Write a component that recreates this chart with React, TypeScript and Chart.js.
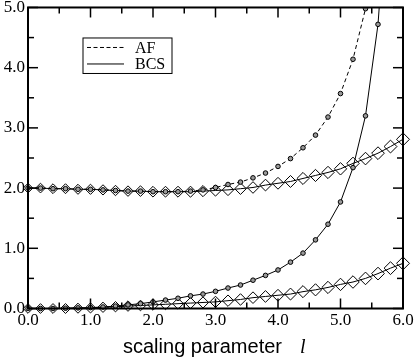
import React, { useEffect, useRef } from "react";
import { Chart, registerables } from "chart.js";
Chart.register(...registerables);

const xValues = [0, 0.2, 0.4, 0.6, 0.8, 1.0, 1.2, 1.4, 1.6, 1.8, 2.0, 2.2, 2.4, 2.6, 2.8, 3.0, 3.2, 3.4, 3.6, 3.8, 4.0, 4.2, 4.4, 4.6, 4.8, 5.0, 5.2, 5.4, 5.6, 5.8, 6.0];
const afValues = [2.0, 2.0, 1.99, 1.99, 1.98, 1.98, 1.97, 1.96, 1.95, 1.95, 1.94, 1.94, 1.94, 1.95, 1.97, 2.01, 2.06, 2.1, 2.17, 2.25, 2.36, 2.49, 2.67, 2.88, 3.18, 3.57, 4.14, 4.98, 6.3];
const bcsValues = [0, 0, 0, 0.005, 0.01, 0.015, 0.025, 0.04, 0.06, 0.08, 0.11, 0.14, 0.17, 0.21, 0.24, 0.285, 0.34, 0.39, 0.47, 0.55, 0.64, 0.77, 0.92, 1.14, 1.4, 1.77, 2.34, 3.2, 4.72, 7.6];
const upperDiamonds = [2.0, 2.0, 1.99, 1.99, 1.98, 1.98, 1.97, 1.96, 1.95, 1.95, 1.94, 1.94, 1.94, 1.94, 1.95, 1.96, 1.97, 1.99, 2.01, 2.05, 2.08, 2.11, 2.16, 2.21, 2.26, 2.32, 2.41, 2.49, 2.58, 2.69, 2.81];
const lowerDiamonds = [0, 0, 0, 0, 0.005, 0.01, 0.02, 0.03, 0.04, 0.05, 0.06, 0.07, 0.08, 0.09, 0.1, 0.11, 0.13, 0.15, 0.18, 0.2, 0.22, 0.24, 0.28, 0.31, 0.35, 0.4, 0.44, 0.5, 0.58, 0.67, 0.75];
const xTicks = [0, 1, 2, 3, 4, 5, 6];
const yTicks = [0, 1, 2, 3, 4, 5];
const legendLabels = ["AF", "BCS"];
const xTitle = "scaling parameter";
const xTitleVar = "l";

const toPoints = (vals: number[]) => vals.map((y, i) => ({ x: xValues[i], y }));

const SERIF = "'Liberation Serif', 'Times New Roman', serif";
const SANS = "'Liberation Sans', Arial, sans-serif";

const decor = {
  id: "decor",
  afterDraw(chart: any) {
    const { ctx, chartArea: a, scales } = chart;
    const xs = scales.x;
    const ys = scales.y;
    ctx.save();
    ctx.strokeStyle = "#000";
    ctx.lineCap = "butt";
    const seg = (x1: number, y1: number, x2: number, y2: number) => {
      ctx.beginPath();
      ctx.moveTo(x1, y1);
      ctx.lineTo(x2, y2);
      ctx.stroke();
    };
    ctx.lineWidth = 1.5;
    const xMax = xTicks[xTicks.length - 1];
    for (let i = 0; i <= xMax * 2; i++) {
      const v = i / 2;
      const L = i % 2 === 0 ? 10 : 6;
      const px = xs.getPixelForValue(v);
      seg(px, a.bottom, px, a.bottom - L);
      seg(px, a.top, px, a.top + L);
    }
    const yMax = yTicks[yTicks.length - 1];
    for (let i = 0; i <= yMax * 2; i++) {
      const v = i / 2;
      const L = i % 2 === 0 ? 10 : 6;
      const py = ys.getPixelForValue(v);
      seg(a.left, py, a.left + L, py);
      seg(a.right, py, a.right - L, py);
    }
    ctx.lineWidth = 2;
    ctx.strokeRect(a.left, a.top, a.right - a.left, a.bottom - a.top);

    // legend
    const lx = a.left + 55;
    const ly = a.top + 30.5;
    ctx.lineWidth = 1;
    ctx.strokeRect(lx, ly, 89, 35.5);
    ctx.setLineDash([4, 2.5]);
    seg(lx + 4, ly + 9.5, lx + 41, ly + 9.5);
    ctx.setLineDash([]);
    seg(lx + 4, ly + 26, lx + 41, ly + 26);
    ctx.fillStyle = "#000";
    ctx.font = `16px ${SERIF}`;
    ctx.textBaseline = "alphabetic";
    ctx.textAlign = "left";
    ctx.fillText(legendLabels[0], lx + 52, ly + 15);
    ctx.fillText(legendLabels[1], lx + 52, ly + 31);

    // x title
    ctx.font = `20px ${SANS}`;
    ctx.fillText(xTitle, 123, 353);
    ctx.font = `italic 20px ${SERIF}`;
    ctx.fillText(xTitleVar, 300, 353);
    ctx.restore();
  },
};

export default function App() {
  const ref = useRef<HTMLCanvasElement>(null);
  useEffect(() => {
    if (!ref.current) return;
    const diamondRadius = (c: any) => 4.8 + 0.28 * (c.raw ? c.raw.x : 0);
    const chart = new Chart(ref.current, {
      type: "scatter",
      data: {
        datasets: [
          {
            label: legendLabels[0],
            data: toPoints(afValues),
            showLine: true,
            borderColor: "#000",
            borderWidth: 1,
            borderDash: [4, 3],
            pointStyle: "circle",
            pointRadius: 2.3,
            pointBackgroundColor: "#9a9a9a",
            pointBorderColor: "#000",
            pointBorderWidth: 1,
            clip: { left: 10, right: 10, top: 0, bottom: 10 } as any,
          },
          {
            label: legendLabels[1],
            data: toPoints(bcsValues),
            showLine: true,
            borderColor: "#000",
            borderWidth: 1,
            pointStyle: "circle",
            pointRadius: 2.3,
            pointBackgroundColor: "#9a9a9a",
            pointBorderColor: "#000",
            pointBorderWidth: 1,
            clip: { left: 10, right: 10, top: 0, bottom: 10 } as any,
          },
          {
            label: "upper",
            data: toPoints(upperDiamonds),
            showLine: true,
            borderColor: "#000",
            borderWidth: 1,
            pointStyle: "rectRot",
            pointRadius: diamondRadius,
            pointBackgroundColor: "rgba(0,0,0,0)",
            pointBorderColor: "#000",
            pointBorderWidth: 1,
            clip: false as any,
          },
          {
            label: "lower",
            data: toPoints(lowerDiamonds),
            showLine: true,
            borderColor: "#000",
            borderWidth: 1,
            pointStyle: "rectRot",
            pointRadius: diamondRadius,
            pointBackgroundColor: "rgba(0,0,0,0)",
            pointBorderColor: "#000",
            pointBorderWidth: 1,
            clip: false as any,
          },
        ],
      },
      options: {
        animation: false,
        responsive: true,
        maintainAspectRatio: false,
        events: [],
        layout: { padding: { top: 7, right: 12, left: 0, bottom: 0 } },
        plugins: { legend: { display: false }, tooltip: { enabled: false } },
        scales: {
          x: {
            type: "linear",
            min: xTicks[0],
            max: xTicks[xTicks.length - 1],
            grid: { display: false, drawTicks: false },
            border: { display: false },
            ticks: {
              stepSize: 1,
              padding: 2,
              color: "#000",
              font: { family: SERIF, size: 17 },
              callback: (v: any) => Number(v).toFixed(1),
              maxRotation: 0,
            },
            afterFit: (s: any) => {
              s.height = 51.5;
              s.paddingLeft = 0;
              s.paddingRight = 0;
            },
          },
          y: {
            type: "linear",
            min: yTicks[0],
            max: yTicks[yTicks.length - 1],
            grid: { display: false, drawTicks: false },
            border: { display: false },
            ticks: {
              stepSize: 1,
              padding: 3,
              color: "#000",
              font: { family: SERIF, size: 17 },
              callback: (v: any) => Number(v).toFixed(1),
            },
            afterFit: (s: any) => {
              s.width = 28;
              s.paddingTop = 0;
              s.paddingBottom = 0;
            },
          },
        },
      },
      plugins: [decor],
    });
    return () => chart.destroy();
  }, []);
  return (
    <div style={{ position: "fixed", left: 0, top: 0, width: 415, height: 360, background: "#fff" }}>
      <canvas ref={ref} />
    </div>
  );
}
